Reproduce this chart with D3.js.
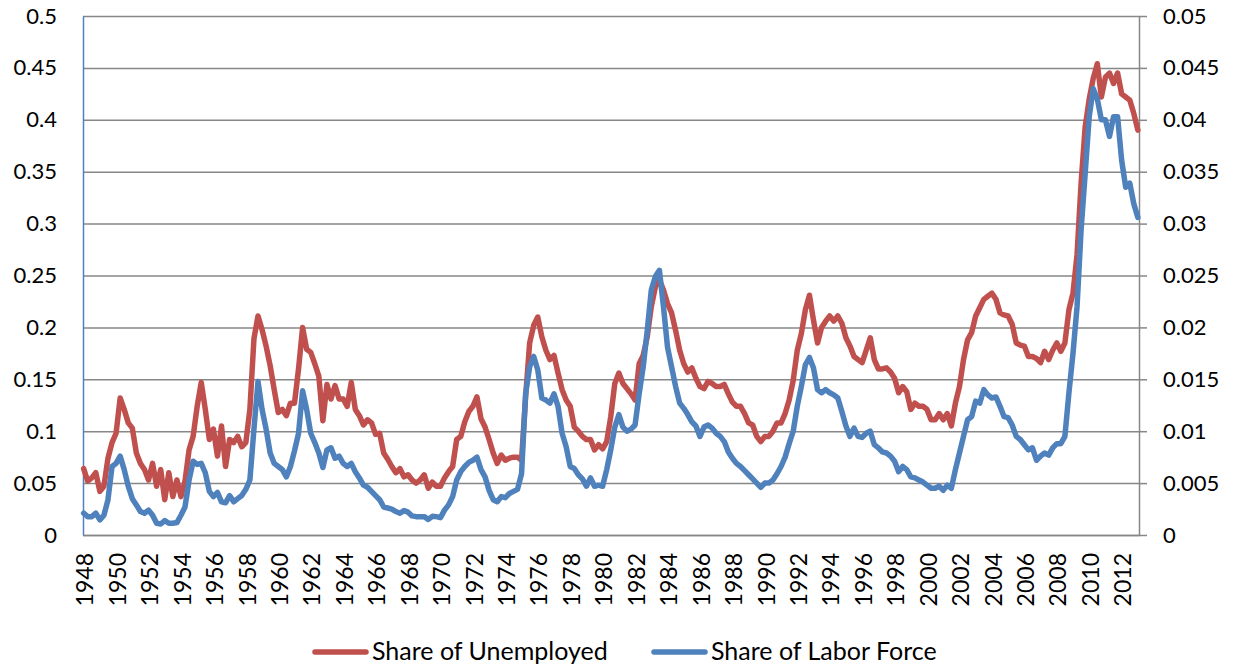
<!DOCTYPE html>
<html>
<head>
<meta charset="utf-8">
<script src="https://cdn.jsdelivr.net/npm/d3@7/dist/d3.min.js"></script>
<style>
  body { margin: 0; background: #fff; }
  #canvas { width: 1235px; height: 667px; }
  text { font-family: Lato, "Open Sans", sans-serif; fill: #000; }
</style>
</head>
<body>
<div id="canvas" class="canvas"></div>
<script>
// quarterly readings, first value is 1948 Q1
var startYear = 1948;

// left axis
var unemployedShare = [
  0.064,0.052,0.055,0.060,0.042,0.047,0.074,0.089,0.098,0.132,0.121,0.108,0.103,0.079,0.069,0.063,0.053,0.069,0.047,0.063,
  0.034,0.060,0.037,0.053,0.037,0.052,0.082,0.095,0.124,0.147,0.121,0.092,0.102,0.076,0.105,0.066,0.092,0.089,0.095,0.085,
  0.089,0.121,0.189,0.211,0.198,0.182,0.163,0.140,0.118,0.121,0.115,0.127,0.127,0.160,0.200,0.179,0.176,0.165,0.153,0.110,
  0.145,0.131,0.144,0.131,0.131,0.124,0.147,0.121,0.115,0.106,0.111,0.108,0.097,0.098,0.079,0.073,0.066,0.060,0.064,0.056,
  0.058,0.053,0.050,0.053,0.058,0.045,0.051,0.047,0.047,0.055,0.061,0.066,0.092,0.095,0.109,0.119,0.124,0.133,0.112,0.104,
  0.092,0.079,0.069,0.077,0.072,0.074,0.075,0.075,0.072,0.133,0.185,0.202,0.210,0.191,0.178,0.169,0.173,0.156,0.140,0.130,
  0.124,0.104,0.100,0.095,0.092,0.092,0.082,0.087,0.083,0.090,0.114,0.146,0.156,0.146,0.141,0.136,0.130,0.165,0.173,0.191,
  0.220,0.239,0.246,0.236,0.223,0.214,0.197,0.178,0.165,0.157,0.161,0.151,0.143,0.141,0.148,0.146,0.143,0.143,0.145,0.136,
  0.128,0.124,0.124,0.117,0.108,0.106,0.095,0.090,0.095,0.095,0.100,0.108,0.108,0.117,0.130,0.149,0.178,0.194,0.217,0.231,
  0.207,0.185,0.200,0.206,0.211,0.206,0.211,0.204,0.190,0.182,0.172,0.169,0.166,0.178,0.190,0.169,0.160,0.160,0.161,0.157,
  0.151,0.137,0.143,0.138,0.121,0.127,0.124,0.124,0.121,0.111,0.111,0.117,0.111,0.117,0.105,0.127,0.143,0.169,0.188,0.195,
  0.211,0.219,0.227,0.230,0.233,0.227,0.214,0.212,0.211,0.203,0.185,0.183,0.182,0.172,0.172,0.170,0.166,0.177,0.169,0.178,
  0.185,0.177,0.185,0.217,0.233,0.270,0.339,0.393,0.420,0.440,0.454,0.422,0.441,0.445,0.435,0.445,0.425,0.422,0.419,0.406,
  0.390
];

// right axis
var laborForceShare = [
  0.0021,0.00177,0.00177,0.0021,0.00145,0.0019,0.0034,0.0066,0.0069,0.0076,0.0063,0.0047,0.0035,0.0029,0.00226,0.0021,0.0024,0.0019,0.00113,0.00106,
  0.00139,0.00113,0.00113,0.0012,0.0019,0.0027,0.0053,0.0071,0.0068,0.0069,0.0060,0.0042,0.0037,0.0041,0.0032,0.0031,0.0038,0.0032,0.0035,0.0038,
  0.0044,0.0053,0.0102,0.0148,0.0121,0.0102,0.0079,0.0069,0.0066,0.0063,0.0056,0.0066,0.0081,0.0098,0.0139,0.0121,0.0098,0.0089,0.0079,0.0065,
  0.0082,0.0084,0.0074,0.0076,0.0069,0.0066,0.0069,0.0061,0.0055,0.0048,0.0046,0.0042,0.0038,0.0034,0.0027,0.0026,0.0025,0.00226,0.0021,0.00235,
  0.0022,0.00184,0.00177,0.00177,0.00177,0.0015,0.0018,0.00177,0.00167,0.0024,0.0029,0.0037,0.0053,0.0061,0.0066,0.0070,0.0072,0.0075,0.0063,0.0056,
  0.0043,0.0034,0.0032,0.0037,0.0036,0.0040,0.0042,0.0044,0.0059,0.0136,0.0162,0.0172,0.0159,0.0132,0.0130,0.0127,0.0136,0.0124,0.0098,0.0085,
  0.0066,0.0064,0.0058,0.0054,0.0047,0.0055,0.0047,0.0048,0.0047,0.0063,0.0082,0.0104,0.0116,0.0104,0.0100,0.0102,0.0106,0.0136,0.0162,0.0197,
  0.0236,0.0249,0.0255,0.0220,0.0181,0.0162,0.0143,0.0127,0.0122,0.0116,0.0109,0.0105,0.0095,0.0104,0.0106,0.0103,0.0098,0.0095,0.0090,0.0080,
  0.0074,0.0069,0.0066,0.0062,0.0058,0.0054,0.0050,0.0046,0.0050,0.0050,0.0053,0.0059,0.0066,0.0075,0.0088,0.0100,0.0124,0.0143,0.0164,0.0171,
  0.0161,0.0140,0.0137,0.0140,0.0137,0.0135,0.0132,0.0119,0.0105,0.0095,0.0103,0.0095,0.0094,0.0098,0.0100,0.0087,0.0084,0.0080,0.0079,0.0076,
  0.0071,0.0061,0.0066,0.0063,0.0056,0.0055,0.0053,0.0051,0.0048,0.0045,0.0045,0.0047,0.0043,0.0048,0.0045,0.0063,0.0079,0.0095,0.0111,0.0114,
  0.0129,0.0127,0.0140,0.0135,0.0132,0.0133,0.0124,0.0114,0.0113,0.0106,0.0095,0.0092,0.0087,0.0082,0.0084,0.0072,0.0076,0.0079,0.0077,0.0084,
  0.0088,0.0088,0.0095,0.0137,0.0175,0.0220,0.0294,0.0348,0.0403,0.0430,0.0420,0.0400,0.0400,0.0384,0.0403,0.0403,0.0361,0.0335,0.0339,0.0319,
  0.0306
];

var leftTicks = [0, 0.05, 0.1, 0.15, 0.2, 0.25, 0.3, 0.35, 0.4, 0.45, 0.5];
var rightTicks = [0, 0.005, 0.01, 0.015, 0.02, 0.025, 0.03, 0.035, 0.04, 0.045, 0.05];
var yearLabels = [1948,1950,1952,1954,1956,1958,1960,1962,1964,1966,1968,1970,1972,1974,1976,1978,1980,
                  1982,1984,1986,1988,1990,1992,1994,1996,1998,2000,2002,2004,2006,2008,2010,2012];
var seriesNames = ['Share of Unemployed', 'Share of Labor Force'];

var m = {t:16, r:96, b:132, l:83},
    w = 1235 - m.l - m.r,
    h = 667 - m.t - m.b;

var svg = d3.select('.canvas').append('svg')
    .attr('width', w + m.l + m.r)
    .attr('height', h + m.t + m.b);

var plot = svg.append('g')
    .attr('transform', 'translate(' + m.l + ',' + m.t + ')');

var unemp = unemployedShare.map(function(v, i) { return {t: startYear + i / 4, v: v}; });
var labor = laborForceShare.map(function(v, i) { return {t: startYear + i / 4, v: v}; });

// scales
var scaleX = d3.scaleLinear().domain([1947.96, 2013.07]).range([0, w]);
var scaleYL = d3.scaleLinear().domain([0, 0.5]).range([h, 0]);
var scaleYR = d3.scaleLinear().domain([0, 0.05]).range([h, 0]);

var gridColor = '#878787';

// gridlines
plot.append('g')
    .call(d3.axisLeft(scaleYL).tickValues(leftTicks).tickSize(-w).tickFormat(''))
    .call(function(g) {
      g.select('.domain').remove();
      g.selectAll('line').attr('stroke', gridColor).attr('stroke-width', 1.5);
    });

// left axis
plot.append('g')
    .call(d3.axisLeft(scaleYL).tickValues(leftTicks).tickSize(0).tickPadding(26).tickFormat(d3.format('')))
    .call(function(g) {
      g.select('.domain').attr('stroke', '#4F81BD').attr('stroke-width', 1.5);
      g.selectAll('text').style('font-size', '22px').attr('fill', '#000');
    });

// right axis
plot.append('g')
    .attr('transform', 'translate(' + w + ',0)')
    .call(d3.axisRight(scaleYR).tickValues(rightTicks).tickSize(8).tickSizeOuter(0).tickPadding(16).tickFormat(d3.format('')))
    .call(function(g) {
      g.select('.domain').attr('stroke', gridColor).attr('stroke-width', 1.5);
      g.selectAll('line').attr('stroke', gridColor).attr('stroke-width', 1.5);
      g.selectAll('text').style('font-size', '22px').attr('fill', '#000');
    });

// bottom axis, rotated year labels
plot.append('g')
    .attr('transform', 'translate(0,' + h + ')')
    .call(d3.axisBottom(scaleX).tickValues(yearLabels).tickSize(0).tickSizeOuter(0).tickFormat(d3.format('d')))
    .call(function(g) {
      g.select('.domain').attr('stroke', gridColor).attr('stroke-width', 1.5);
      g.selectAll('text')
        .attr('transform', 'rotate(-90)')
        .attr('text-anchor', 'end')
        .attr('x', -18)
        .attr('y', 0)
        .attr('dy', '0.4em')
        .style('font-size', '23px')
        .attr('fill', '#000');
    });

// lines
var lineL = d3.line().x(function(d) { return scaleX(d.t); }).y(function(d) { return scaleYL(d.v); });
var lineR = d3.line().x(function(d) { return scaleX(d.t); }).y(function(d) { return scaleYR(d.v); });

plot.append('path').datum(unemp)
    .attr('d', lineL)
    .attr('fill', 'none')
    .attr('stroke', '#C0504D')
    .attr('stroke-width', 5.5)
    .attr('stroke-linejoin', 'round')
    .attr('stroke-linecap', 'round');

plot.append('path').datum(labor)
    .attr('d', lineR)
    .attr('fill', 'none')
    .attr('stroke', '#4F81BD')
    .attr('stroke-width', 5.5)
    .attr('stroke-linejoin', 'round')
    .attr('stroke-linecap', 'round');

// legend
var legend = svg.append('g').attr('transform', 'translate(0,652)');
var legendItems = [
  {name: seriesNames[0], color: '#C0504D', x: 313},
  {name: seriesNames[1], color: '#4F81BD', x: 652}
];
var item = legend.selectAll('g').data(legendItems).enter().append('g')
    .attr('transform', function(d) { return 'translate(' + d.x + ',0)'; });
item.append('line')
    .attr('x1', 2).attr('x2', 53).attr('y1', 0).attr('y2', 0)
    .attr('stroke', function(d) { return d.color; })
    .attr('stroke-width', 5.5)
    .attr('stroke-linecap', 'round');
item.append('text')
    .attr('x', 59)
    .attr('y', 8)
    .style('font-size', '25px')
    .text(function(d) { return d.name; });
</script>
</body>
</html>
